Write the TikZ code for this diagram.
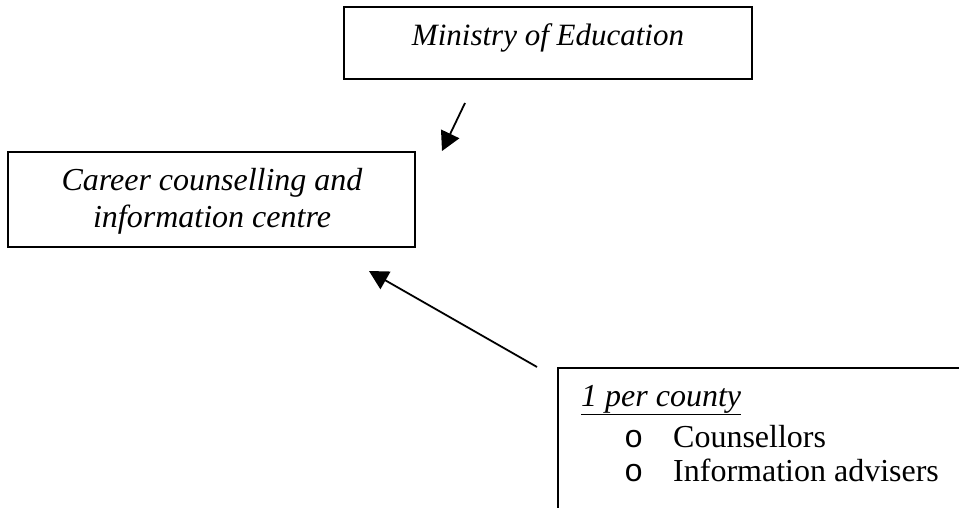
\documentclass[tikz,border=0pt]{standalone}
\usepackage{fontspec}
\setmainfont{Liberation Serif}
\newfontfamily\bulletfont{Liberation Mono}
\usetikzlibrary{arrows.meta}
\begin{document}
\begin{tikzpicture}[x=1pt,y=-1pt,
  boxstyle/.style={draw,line width=2pt,inner sep=0pt},
  txt/.style={inner sep=0pt,anchor=base,font=\fontsize{32}{37}\selectfont},
  ltxt/.style={inner sep=0pt,anchor=base west,font=\fontsize{32}{37}\selectfont},
  arr/.style={line width=1.8pt,-{Triangle[length=19pt,width=20pt]}}]
\clip (0,0) rectangle (959,508);
\fill[white] (0,0) rectangle (959,508);
% boxes
\node[boxstyle,minimum width=408pt,minimum height=72pt] (min) at (548,43) {};
\node[boxstyle,minimum width=407pt,minimum height=95pt] (car) at (211.5,199.5) {};
\node[boxstyle,anchor=north west,minimum width=440pt,minimum height=180pt] (cty) at (557,367) {};
% texts
\node[txt,font=\fontsize{31}{36}\selectfont] (mint) at (548,46) {\itshape Ministry of Education};
\node[txt] (car1) at (212,190) {\itshape Career counselling and};
\node[txt] (car2) at (212,227) {\itshape information centre};
\node[ltxt] (cty1) at (581,406) {\underline{\itshape 1 per county}};
\node[ltxt] (b1) at (624,447) {\bulletfont o};
\node[ltxt] (cty2) at (673,447) {Counsellors};
\node[ltxt] (b2) at (624,481) {\bulletfont o};
\node[ltxt] (cty3) at (673,481) {Information advisers};
% arrows
\coordinate (a1s) at (465,103);
\coordinate (a1e) at (442,151);
\coordinate (a2s) at (537,367);
\coordinate (a2e) at (369,271);
\draw[arr] (a1s) -- (a1e);
\draw[arr] (a2s) -- (a2e);
\end{tikzpicture}
\end{document}
